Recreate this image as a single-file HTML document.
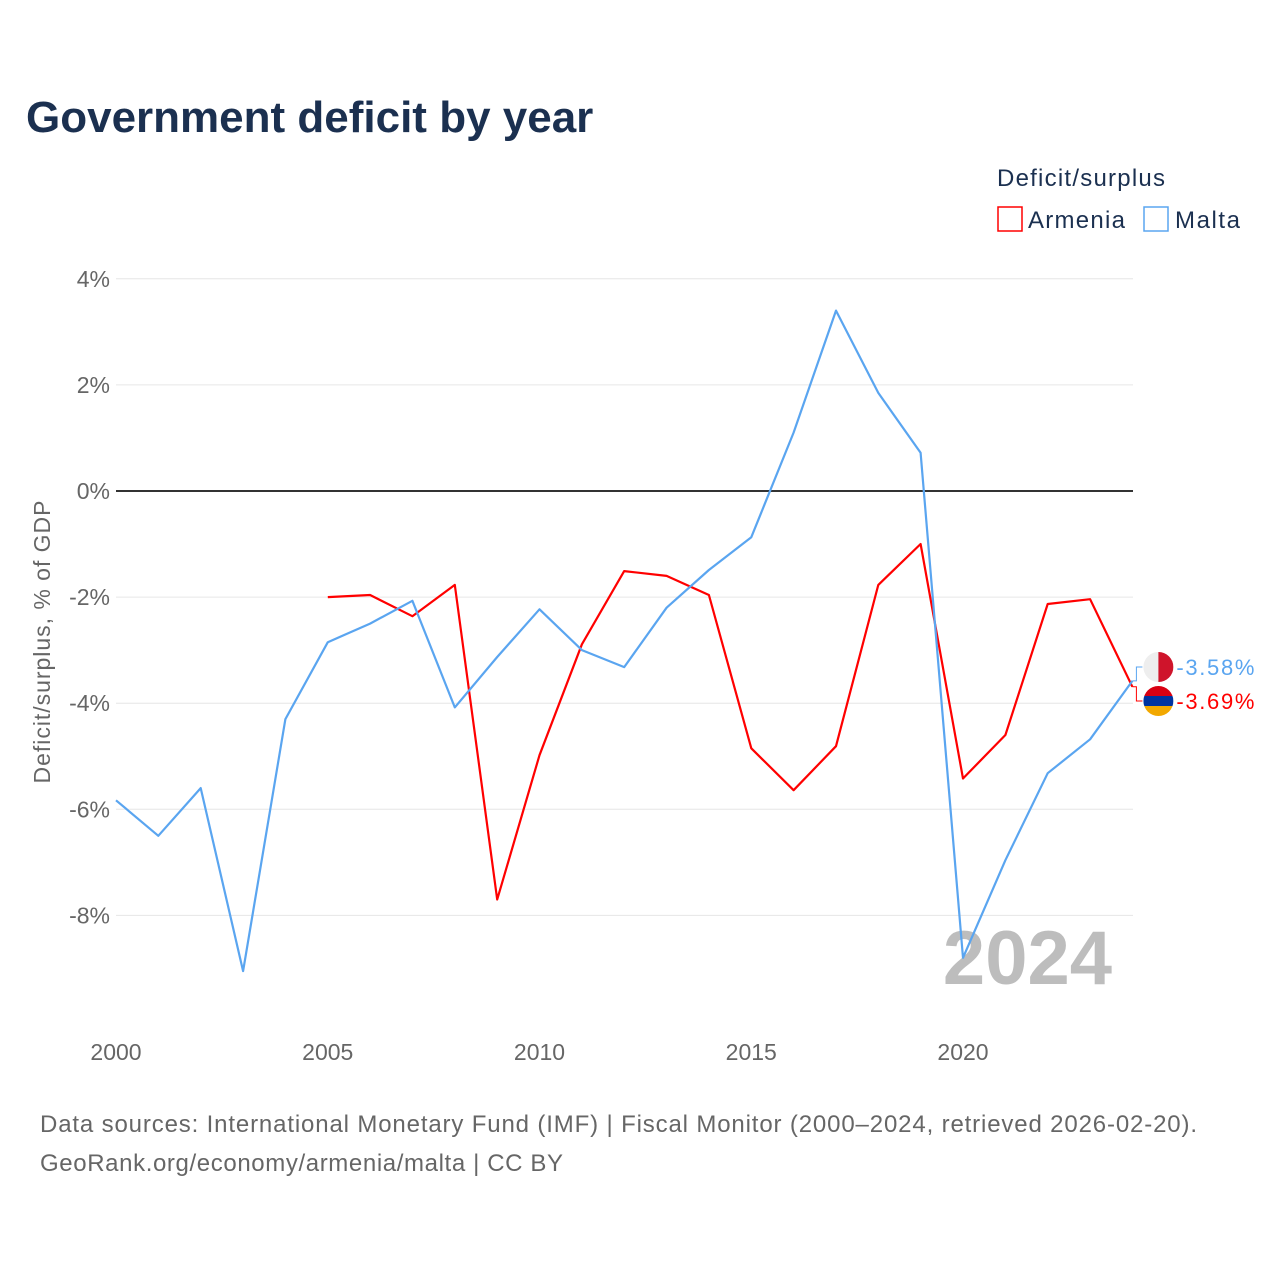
<!DOCTYPE html>
<html><head><meta charset="utf-8"><style>
body{margin:0;background:#fff;font-family:"Liberation Sans",sans-serif;}
#wrap{position:relative;width:1280px;height:1280px;overflow:hidden;}
</style></head><body>
<div id="wrap">
<svg id="chart" width="1280" height="1280">
<text x="26" y="132" font-size="44" font-weight="bold" fill="#1b3050">Government deficit by year</text>
<text x="997" y="186" font-size="24" fill="#1b3050" textLength="168">Deficit/surplus</text>
<g><rect x="998" y="207" width="24" height="24" fill="none" stroke="#ff0000" stroke-width="1.5"/><text x="1028" y="228" font-size="24" fill="#1b3050" textLength="97">Armenia</text></g>
<g><rect x="1144" y="207" width="24" height="24" fill="none" stroke="#5aa5f0" stroke-width="1.5"/><text x="1175" y="228" font-size="24" fill="#1b3050" textLength="65">Malta</text></g>
<g id="grid"></g><g id="yt"></g><g id="xt"></g>
<text x="1112" y="984" font-size="76" font-weight="bold" fill="#bdbdbd" text-anchor="end">2024</text>
<g id="lines"></g>
<text transform="translate(50,642) rotate(-90)" font-size="23" fill="#666" text-anchor="middle" textLength="283">Deficit/surplus, % of GDP</text>
<text x="40" y="1132" font-size="24" fill="#666" textLength="1157">Data sources: International Monetary Fund (IMF) | Fiscal Monitor (2000–2024, retrieved 2026-02-20).</text>
<text x="40" y="1171" font-size="24" fill="#666" textLength="523">GeoRank.org/economy/armenia/malta | CC BY</text>
</svg></div>
<script>
const years=[2000,2001,2002,2003,2004,2005,2006,2007,2008,2009,2010,2011,2012,2013,2014,2015,2016,2017,2018,2019,2020,2021,2022,2023,2024];
const malta=[-5.83,-6.5,-5.6,-9.05,-4.3,-2.85,-2.5,-2.07,-4.08,-3.13,-2.23,-3.0,-3.32,-2.2,-1.49,-0.87,1.1,3.4,1.85,0.72,-8.8,-6.96,-5.32,-4.68,-3.58];
const armenia=[null,null,null,null,null,-2.0,-1.96,-2.36,-1.77,-7.7,-4.98,-2.89,-1.51,-1.6,-1.96,-4.85,-5.64,-4.81,-1.77,-1.0,-5.42,-4.6,-2.13,-2.04,-3.69];
const yTicks=[4,2,0,-2,-4,-6,-8];
const xTicks=[2000,2005,2010,2015,2020];
const NS="http://www.w3.org/2000/svg";
const X=y=>116+(y-2000)*42.35, Y=v=>491-v*53.05;
function mk(t,a,p){const e=document.createElementNS(NS,t);for(const k in a)e.setAttribute(k,a[k]);p.appendChild(e);return e;}
const grid=document.getElementById('grid'),yt=document.getElementById('yt'),xt=document.getElementById('xt'),lines=document.getElementById('lines');
yTicks.forEach(v=>{
 const l=mk('line',{x1:116,x2:1133,y1:Y(v),y2:Y(v),stroke:v===0?'#333':'#e6e6e6','stroke-width':v===0?2:1},grid);
 
 
 const t=mk('text',{x:110,y:Y(v)+8,'font-size':23,fill:'#666','text-anchor':'end'},yt);t.textContent=v+'%';
 
 
});
xTicks.forEach(v=>{
 const t=mk('text',{x:X(v),y:1060,'font-size':23,fill:'#666','text-anchor':'middle'},xt);t.textContent=v;
 
 
});
function draw(vals,col,name){
 let d='';vals.forEach((v,i)=>{if(v===null)return;d+=(d?'L':'M')+X(years[i]).toFixed(1)+','+Y(v).toFixed(1);});
 const p=mk('path',{d:d,fill:'none',stroke:col,'stroke-width':2.2,'stroke-linejoin':'round'},lines);
 
 
}
draw(armenia,'#ff0000','armenia');draw(malta,'#5aa5f0','malta');
function endLabel(v,ly,col,name,flag){
 const x=X(2024),y=Y(v);
 const c=mk('path',{d:`M${x},${y}H${x+4}V${ly}H${x+10}`,fill:'none',stroke:col,'stroke-width':1},lines);
 
 
 const g=mk('g',{},lines);
 
 
 const cx=x+26;
 mk('clipPath',{id:'cp'+name},g).appendChild(document.createElementNS(NS,'circle'));
 const cc=g.querySelector('circle');cc.setAttribute('cx',cx);cc.setAttribute('cy',ly);cc.setAttribute('r',15);
 const gg=mk('g',{'clip-path':'url(#cp'+name+')'},g);
 if(flag==='mt'){mk('rect',{x:cx-15,y:ly-15,width:15,height:30,fill:'#eee'},gg);mk('rect',{x:cx,y:ly-15,width:15,height:30,fill:'#cf142b'},gg);}
 else{mk('rect',{x:cx-15,y:ly-15,width:30,height:10,fill:'#d90012'},gg);mk('rect',{x:cx-15,y:ly-5,width:30,height:10,fill:'#0033a0'},gg);mk('rect',{x:cx-15,y:ly+5,width:30,height:10,fill:'#f2a800'},gg);}
 const t=mk('text',{x:cx+18,y:ly+8,'font-size':22,fill:col,textLength:78},lines);t.textContent=v.toFixed(2)+'%';
 
 
}
endLabel(malta[24],667,'#5aa5f0','malta','mt');
endLabel(armenia[24],701,'#ff0000','armenia','am');
</script>
</body></html>
